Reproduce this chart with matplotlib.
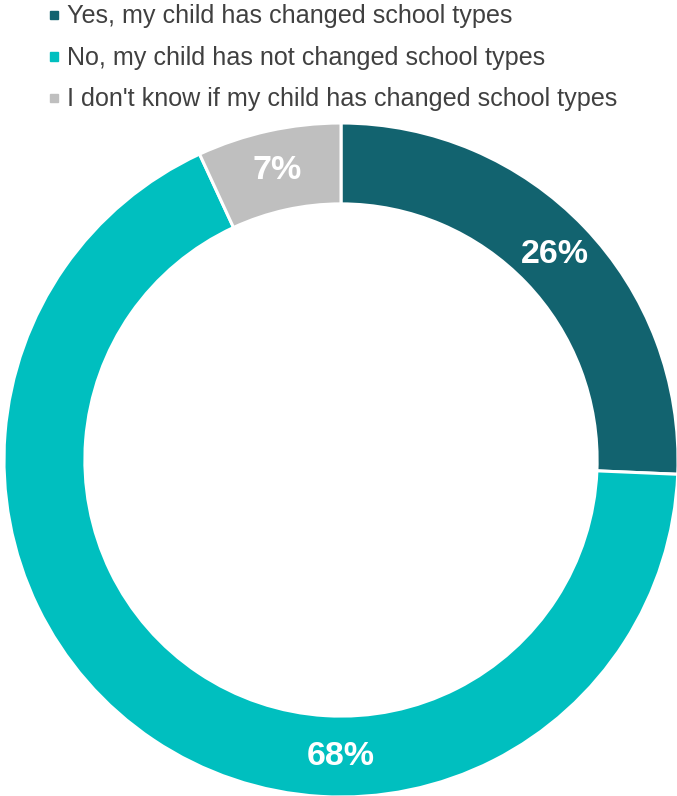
import numpy as np
import matplotlib.pyplot as plt
from matplotlib.patches import Rectangle

plt.rcParams['font.family'] = ['Liberation Sans', 'DejaVu Sans']

labels = ['Yes, my child has changed school types',
          'No, my child has not changed school types',
          "I don't know if my child has changed school types"]
values = [25.7, 67.5, 6.9]
pct_labels = ['26%', '68%', '7%']
colors = ['#12636F', '#00BFBF', '#BFBFBF']

fig = plt.figure(figsize=(6.77, 7.96), dpi=100)

# donut axes (centre ~ (341,460) px, radius ~337 px)
W, H = 677, 796
cx, cy, r = 341, 460, 337
ax = fig.add_axes([(cx - r) / W, (H - cy - r) / H, 2 * r / W, 2 * r / H])
wedges, _ = ax.pie(values, colors=colors, startangle=90, counterclock=False,
                   radius=1, wedgeprops=dict(width=0.24, edgecolor='white', linewidth=2.2))

# label angles, going clockwise from the top; the big slice's label sits at the bottom
label_override = [None, -90.0, None]
total = sum(values)
start = 90.0
for v, txt, ov in zip(values, pct_labels, label_override):
    span = 360.0 * v / total
    ang = np.deg2rad(start - span / 2 if ov is None else ov)
    start -= span
    ax.text(0.88 * np.cos(ang), 0.88 * np.sin(ang), txt, ha='center', va='center',
            color='white', fontsize=24.5, fontweight='bold')
ax.set_xlim(-1, 1)
ax.set_ylim(-1, 1)
ax.set_aspect('equal')
ax.axis('off')

# legend at top
for i, (lab, col) in enumerate(zip(labels, colors)):
    yc = 15 + 41.5 * i
    fig.add_artist(Rectangle((50 / W, 1 - (yc + 4) / H), 8 / W, 8 / H,
                             transform=fig.transFigure, color=col))
    fig.text(67 / W, 1 - (yc + 1) / H, lab, ha='left', va='center',
             fontsize=18.1, color='#404040')

fig.savefig('out.png', dpi=100)
